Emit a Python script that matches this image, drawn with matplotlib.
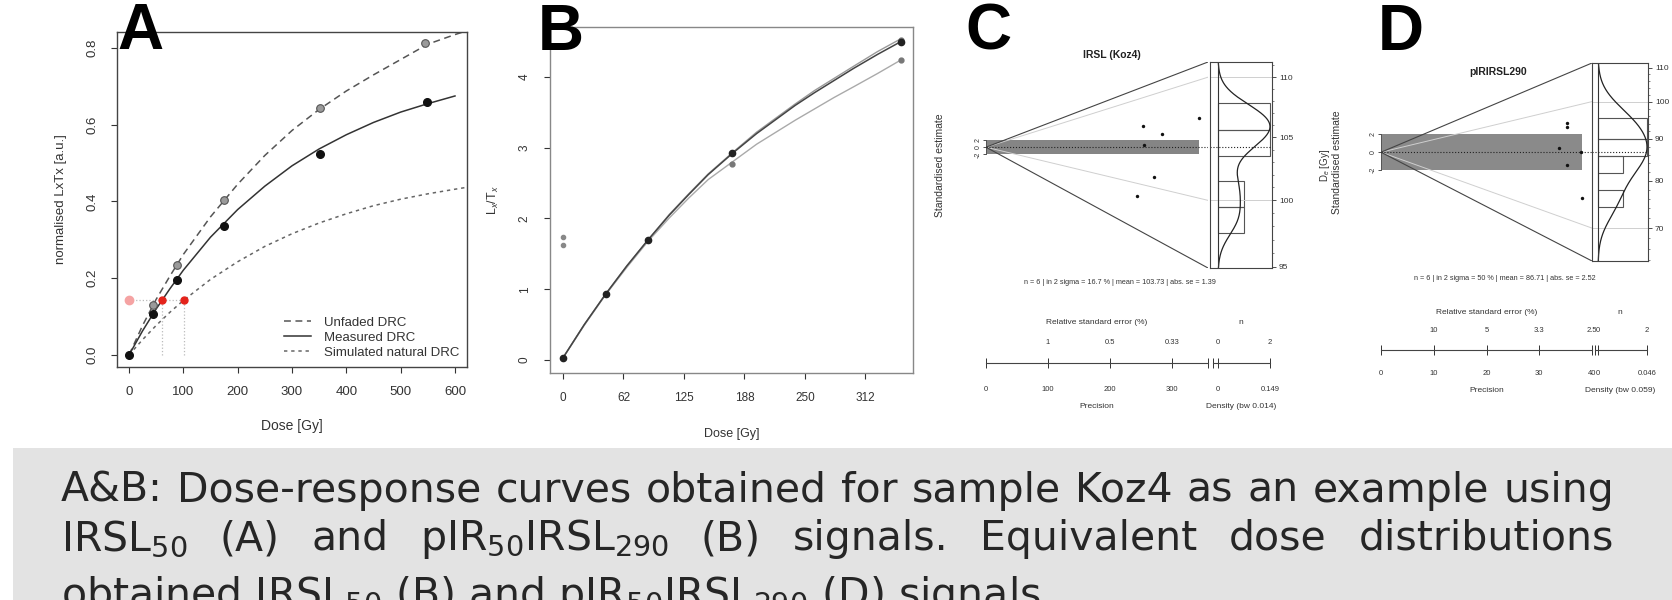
import numpy as np
import matplotlib
matplotlib.use('Agg')
import matplotlib.pyplot as plt
from matplotlib.patches import Rectangle

W, H = 1672, 600
plt.rcParams['font.family'] = ['Liberation Sans', 'DejaVu Sans']
plt.rcParams['mathtext.fontset'] = 'custom'
plt.rcParams['mathtext.rm'] = 'Liberation Sans'
plt.rcParams['mathtext.it'] = 'Liberation Sans:italic'
plt.rcParams['mathtext.bf'] = 'Liberation Sans:bold'

# ---------------- panel A: IRSL50 dose response ----------------
a_dose_meas = [0, 44, 88, 175, 352, 549]
a_lxtx_meas = [0.0, 0.108, 0.195, 0.336, 0.525, 0.658]
a_dose_unf = [44, 88, 175, 352, 545]
a_lxtx_unf = [0.130, 0.235, 0.405, 0.643, 0.812]
a_curve_dose = [0, 25, 50, 75, 100, 150, 200, 250, 300, 350, 400, 450, 500, 550, 600, 622]
a_curve_unf = [0, 0.077, 0.145, 0.205, 0.262, 0.360, 0.445, 0.520, 0.585, 0.640, 0.688,
               0.730, 0.770, 0.810, 0.835, 0.845]
a_curve_meas = [0, 0.063, 0.120, 0.172, 0.221, 0.307, 0.379, 0.440, 0.493, 0.537, 0.574,
                0.606, 0.633, 0.655, 0.675, np.nan]
a_curve_sim = [0, 0.040, 0.077, 0.111, 0.142, 0.197, 0.243, 0.283, 0.316, 0.344, 0.368,
               0.389, 0.406, 0.420, 0.432, 0.437]
a_ln_tn = 0.143
a_de = [61, 101]

# ---------------- panel B: pIR50IRSL290 dose response ----------------
b_dose = [0, 44, 88, 175, 349]
b_lxtx = [0.03, 0.93, 1.70, 2.92, 4.50]
b_dose_rep = [175, 349, 349]
b_lxtx_rep = [2.77, 4.24, 4.53]
b_nat = [1.74, 1.62]
b_curve_dose = [0, 22, 44, 66, 88, 110, 130, 150, 175, 200, 220, 240, 260, 280, 300, 325, 349]
b_curve_1 = [0.03, 0.50, 0.93, 1.33, 1.70, 2.05, 2.34, 2.62, 2.92, 3.20, 3.40, 3.60, 3.78,
             3.95, 4.12, 4.32, 4.50]
b_curve_2 = [0.03, 0.50, 0.93, 1.33, 1.70, 2.06, 2.35, 2.63, 2.93, 3.22, 3.42, 3.62, 3.81,
             3.98, 4.15, 4.36, 4.54]
b_curve_3 = [0.03, 0.49, 0.92, 1.31, 1.68, 2.01, 2.29, 2.55, 2.80, 3.05, 3.22, 3.39, 3.55,
             3.71, 3.86, 4.05, 4.24]
b_xticks = [0, 62.5, 125, 187.5, 250, 312.5]
b_xticklabels = ['0', '62', '125', '188', '250', '312']

# ---------------- panel C: IRSL (Koz4) abanico ----------------
c_prec = [253, 284, 344, 255, 271, 244]
c_de = [106.6, 105.5, 106.7, 104.4, 101.1, 98.6]
c_central = 104.2
c_edges = [97.5, 99.5, 101.5, 103.5, 105.6, 107.8]
c_bw = 0.014
c_de_lim = [94.9, 111.3]
c_de_ticks = [95, 100, 105, 110]
c_de_minor = list(range(95, 112))
c_ref = [100, 110]
c_prec_ticks = [0, 100, 200, 300]
c_stats = 'n = 6 | in 2 sigma = 16.7 % | mean = 103.73 | abs. se = 1.39'

# ---------------- panel D: pIRIRSL290 abanico ----------------
d_prec = [35.3, 35.3, 33.7, 35.3, 37.9, 38.1]
d_de = [95.2, 94.0, 88.0, 83.3, 86.8, 75.8]
d_central = 86.7
d_edges = [74.3, 78.0, 81.8, 85.8, 90.0, 95.5]
d_bw = 0.059
d_de_lim = [63.8, 111.5]
d_de_ticks = [70, 80, 90, 100, 110]
d_de_minor = list(range(64, 112, 2))
d_ref = [70, 100]
d_prec_ticks = [0, 10, 20, 30, 40]
d_stats = 'n = 6 | in 2 sigma = 50 % | mean = 86.71 | abs. se = 2.52'

caption_1 = 'A&B: Dose-response curves obtained for  sample Koz4 as an example using'
caption_2 = ('IRSL$_{\\mathrm{50}}$ (A) and pIR$_{\\mathrm{50}}$IRSL$_{\\mathrm{290}}$ (B) '
             'signals. Equivalent dose distributions')
caption_3 = ('obtained IRSL$_{\\mathrm{50}}$ (B) and pIR$_{\\mathrm{50}}$IRSL$_{\\mathrm{290}}$ '
             '(D) signals.')


def rect(x0, y0, x1, y1):
    return [x0 / W, 1 - y1 / H, (x1 - x0) / W, (y1 - y0) / H]


def fx(x):
    return x / W


def fy(y):
    return 1 - y / H


fig = plt.figure(figsize=(W / 100, H / 100), dpi=100)

# caption background
fig.add_artist(Rectangle((fx(13), 0), 1 - fx(13), (H - 448) / H, transform=fig.transFigure,
                         facecolor='#e3e3e3', edgecolor='none', zorder=-5))


def r_style(ax, spine_col):
    for s in ax.spines.values():
        s.set_color(spine_col)
        s.set_linewidth(1.0)
    ax.tick_params(colors='#333', direction='out')


# ---------------- A ----------------
axA = fig.add_axes(rect(117, 32, 467, 367))
axA.set_xlim(-22.1, 622.1)
axA.set_ylim(-0.0313, 0.8417)
r_style(axA, '#444')
axA.plot(a_curve_dose, a_curve_unf, color='#555', lw=1.1, ls=(0, (4.5, 3)), label='Unfaded DRC')
axA.plot(a_curve_dose, a_curve_meas, color='#333', lw=1.1, label='Measured DRC')
axA.plot(a_curve_dose, a_curve_sim, color='#666', lw=1.1, ls=(0, (2.2, 2.5)),
         label='Simulated natural DRC')
axA.plot([0, max(a_de)], [a_ln_tn, a_ln_tn], color='#bbb', lw=0.9, ls=':')
for d in a_de:
    axA.plot([d, d], [0, a_ln_tn], color='#bbb', lw=0.9, ls=':')
axA.plot(a_dose_unf, a_lxtx_unf, 'o', ms=5.5, mfc='#9a9a9a', mec='#555', mew=0.8)
axA.plot(a_dose_meas, a_lxtx_meas, 'o', ms=5.5, color='#111')
axA.plot([0], [a_ln_tn], 'o', ms=6, color='#f5a3a3')
axA.plot(a_de, [a_ln_tn] * len(a_de), 'o', ms=5, color='#e4231b')
axA.set_xticks(range(0, 601, 100))
axA.set_yticks([0.0, 0.2, 0.4, 0.6, 0.8])
axA.set_yticklabels(['0.0', '0.2', '0.4', '0.6', '0.8'], rotation=90, va='center')
axA.tick_params(axis='x', labelsize=9.5, length=4, pad=10)
axA.tick_params(axis='y', labelsize=9.5, length=4, pad=9)
axA.set_xlabel('Dose [Gy]', fontsize=10, color='#333')
axA.xaxis.set_label_coords(0.5, -0.155)
axA.set_ylabel('normalised LxTx [a.u.]', fontsize=9.5, color='#333')
axA.yaxis.set_label_coords(-0.143, 0.5)
axA.legend(loc='lower right', frameon=False, fontsize=9.5, handlelength=2.0,
           handletextpad=1.0, labelspacing=0.22, borderaxespad=0.2, labelcolor='#333')

# ---------------- B ----------------
axB = fig.add_axes(rect(550, 27, 913, 373))
axB.set_xlim(-13.4, 361.6)
axB.set_ylim(-0.184, 4.707)
r_style(axB, '#888')
axB.plot(b_curve_dose, b_curve_3, color='#aaa', lw=1.0)
axB.plot(b_curve_dose, b_curve_2, color='#999', lw=1.0)
axB.plot(b_curve_dose, b_curve_1, color='#444', lw=1.1)
axB.plot(b_dose_rep, b_lxtx_rep, 'o', ms=3.5, color='#777')
axB.plot([0] * len(b_nat), b_nat, 'o', ms=3, color='#888')
axB.plot(b_dose, b_lxtx, 'o', ms=4.5, color='#222')
axB.set_xticks(b_xticks)
axB.set_xticklabels(b_xticklabels)
axB.set_yticks([0, 1, 2, 3, 4])
axB.set_yticklabels(['0', '1', '2', '3', '4'], rotation=90, va='center')
axB.tick_params(axis='x', labelsize=8.5, length=4, pad=10)
axB.tick_params(axis='y', labelsize=8.5, length=4, pad=10)
axB.set_xlabel('Dose [Gy]', fontsize=9, color='#333')
axB.xaxis.set_label_coords(0.5, -0.16)
axB.set_ylabel('L$_x$/T$_x$', fontsize=9, color='#333')
axB.yaxis.set_label_coords(-0.135, 0.5)


# ---------------- abanico plots (C, D) ----------------
def abanico(prec, de, central, edges, bw, de_lim, de_ticks, de_minor, ref_de, prec_ticks,
            title, stats, lay):
    prec = np.asarray(prec, float)
    lde = np.log(de)
    z0 = np.log(central)
    xr0, xr1 = lay['r']
    xd0, xd1 = lay['d']
    top, bot = lay['top'], lay['bottom']
    x_end = lay['x_end']
    ylo = (np.log(de_lim[0]) - z0) * x_end
    yhi = (np.log(de_lim[1]) - z0) * x_end

    # radial part
    ax = fig.add_axes(rect(xr0, top, xr1, bot))
    ax.set_xlim(0, x_end)
    ax.set_ylim(ylo, yhi)
    ax.patch.set_alpha(0)
    for s in ['top', 'right', 'bottom']:
        ax.spines[s].set_visible(False)
    ax.spines['left'].set_bounds(-2, 2)
    ax.spines['left'].set_color('#555')
    ax.spines['left'].set_linewidth(0.7)
    ax.set_xticks([])
    ax.set_yticks([-2, 0, 2])
    ax.set_yticklabels(['-2', '0', '2'], rotation=90, va='center')
    ax.tick_params(axis='y', labelsize=5, length=2, pad=1, colors='#333', width=0.6)
    ax.add_patch(Rectangle((0, -2), prec.max(), 4, facecolor=lay['band'], edgecolor='none',
                           zorder=1))
    for d in ref_de:
        ax.plot([0, x_end], [0, (np.log(d) - z0) * x_end], color='#cfcfcf', lw=0.7, zorder=2)
    ax.plot([x_end, 0, x_end], [yhi, 0, ylo], color='#444', lw=0.8, zorder=3)
    ax.axhline(0, ls=':', color='#222', lw=0.8, zorder=3)
    ax.scatter(prec, (lde - z0) * prec, s=6, color='#111', zorder=4, linewidths=0)
    ax.set_ylabel('Standardised estimate', fontsize=7.5, color='#333')
    ax.yaxis.set_label_coords((lay['ylab_x'] - xr0) / (xr1 - xr0), 0.5)

    # density part
    axd = fig.add_axes(rect(xd0, top, xd1, bot))
    grid = np.linspace(np.log(de_lim[0]), np.log(de_lim[1]), 400)
    kde = np.exp(-0.5 * ((grid[:, None] - lde[None, :]) / bw) ** 2).sum(1)
    kde = kde / (len(de) * bw * np.sqrt(2 * np.pi)) / np.exp(grid)
    dmax = kde.max()
    wd = xd1 - xd0
    zp, rp = lay['zero_px'], lay['max_px']
    scale = dmax / (wd - zp - rp)
    axd.set_xlim(-zp * scale, (wd - zp) * scale)
    axd.set_ylim(np.log(de_lim[0]), np.log(de_lim[1]))
    counts, _ = np.histogram(de, bins=edges)
    nmax = counts.max()
    le = np.log(edges)
    for d in ref_de:
        axd.axhline(np.log(d), color='#cfcfcf', lw=0.7)
    axd.barh(le[:-1], counts / nmax * dmax, height=np.diff(le), align='edge', fill=False,
             edgecolor='#555', lw=0.8)
    axd.plot(kde, grid, color='#222', lw=0.9)
    axd.axvline(0, color='#333', lw=0.8)
    axd.axhline(z0, ls=':', color='#222', lw=0.8)
    for s in axd.spines.values():
        s.set_color('#444')
        s.set_linewidth(0.8)
    axd.set_xticks([])
    axd.yaxis.tick_right()
    axd.set_yticks(np.log(de_ticks))
    axd.set_yticklabels([str(t) for t in de_ticks])
    axd.set_yticks(np.log(de_minor), minor=True)
    axd.tick_params(axis='y', which='major', labelsize=6, length=3, pad=2, colors='#333',
                    width=0.6)
    axd.tick_params(axis='y', which='minor', length=1.5, colors='#555', width=0.5)
    axd.yaxis.set_label_position('right')
    axd.set_ylabel('D$_e$ [Gy]', fontsize=7, color='#333', rotation=90)
    axd.yaxis.set_label_coords((lay['delab_x'] - xd0) / wd, 0.5)

    # title and statistics
    fig.text(fx(lay['title_xy'][0]), fy(lay['title_xy'][1]), title, fontsize=7.5,
             fontweight='bold', ha='center', va='center', color='#222')
    fig.text(fx(lay['stats_xy'][0]), fy(lay['stats_xy'][1]), stats, fontsize=5.2,
             ha='center', va='center', color='#333')

    # precision axis below
    ly = lay['line_y']
    axp = fig.add_axes(rect(xr0, ly - 10, xr1, ly))
    axp.set_xlim(0, x_end)
    axp.set_ylim(0, 1)
    axp.patch.set_alpha(0)
    for s in ['top', 'right', 'left']:
        axp.spines[s].set_visible(False)
    axp.spines['bottom'].set_bounds(0, x_end)
    axp.spines['bottom'].set_color('#444')
    axp.spines['bottom'].set_linewidth(0.8)
    axp.set_yticks([])
    axp.set_xticks(prec_ticks)
    axp.set_xticklabels([str(p) for p in prec_ticks])
    axp.set_xticks([x_end], minor=True)
    axp.tick_params(axis='x', which='both', direction='inout', length=7, width=0.7,
                    labelsize=5.5, pad=lay['tick_pad'], colors='#333')
    for p in prec_ticks[1:]:
        axp.annotate('%.2g' % (100.0 / p), (p, 0), xycoords=('data', 'axes fraction'),
                     xytext=(0, lay['rse_dy']), textcoords='offset pixels', ha='center',
                     va='center', fontsize=5.5, color='#333')
    axp.annotate('Relative standard error (%)', (0.5, 0), xycoords='axes fraction',
                 xytext=(0, lay['head_dy']), textcoords='offset pixels', ha='center',
                 va='center', fontsize=6, color='#333')
    axp.annotate('Precision', (0.5, 0), xycoords='axes fraction',
                 xytext=(0, -lay['lab_dy']), textcoords='offset pixels', ha='center',
                 va='center', fontsize=6, color='#333')

    # density axis below
    axb = fig.add_axes(rect(xd0, ly - 10, xd1, ly))
    axb.set_xlim(axd.get_xlim())
    axb.set_ylim(0, 1)
    axb.patch.set_alpha(0)
    for s in ['top', 'right', 'left']:
        axb.spines[s].set_visible(False)
    start = -zp * scale + 3 * scale
    axb.spines['bottom'].set_bounds(start, dmax)
    axb.spines['bottom'].set_color('#444')
    axb.spines['bottom'].set_linewidth(0.8)
    axb.set_yticks([])
    axb.set_xticks([0, dmax])
    axb.set_xticklabels(['0', '%.3f' % dmax])
    axb.set_xticks([start], minor=True)
    axb.tick_params(axis='x', which='both', direction='inout', length=7, width=0.7,
                    labelsize=5.5, pad=lay['tick_pad'], colors='#333')
    for v, lab in [(0, '0'), (dmax, str(nmax))]:
        axb.annotate(lab, (v, 0), xycoords=('data', 'axes fraction'),
                     xytext=(0, lay['rse_dy']), textcoords='offset pixels', ha='center',
                     va='center', fontsize=5.5, color='#333')
    axb.annotate('n', (0.5, 0), xycoords='axes fraction', xytext=(0, lay['head_dy']),
                 textcoords='offset pixels', ha='center', va='center', fontsize=6,
                 color='#333')
    axb.annotate('Density (bw %s)' % bw, (0.5, 0), xycoords='axes fraction',
                 xytext=(0, -lay['lab_dy']), textcoords='offset pixels', ha='center',
                 va='center', fontsize=6, color='#333')


lay_c = dict(r=(986, 1208), d=(1210, 1272), top=62, bottom=268, x_end=358, band='#858585',
             zero_px=8, max_px=2, ylab_x=945, delab_x=1318, title_xy=(1112, 55),
             stats_xy=(1120, 283), line_y=363, tick_pad=13, rse_dy=21, head_dy=40, lab_dy=44)
lay_d = dict(r=(1381, 1592), d=(1592, 1648), top=63, bottom=261, x_end=40, band='#8a8a8a',
             zero_px=6, max_px=1, ylab_x=1342, delab_x=1700, title_xy=(1498, 72),
             stats_xy=(1505, 278), line_y=350, tick_pad=11, rse_dy=20, head_dy=37, lab_dy=40)

abanico(c_prec, c_de, c_central, c_edges, c_bw, c_de_lim, c_de_ticks, c_de_minor, c_ref,
        c_prec_ticks, 'IRSL (Koz4)', c_stats, lay_c)
abanico(d_prec, d_de, d_central, d_edges, d_bw, d_de_lim, d_de_ticks, d_de_minor, d_ref,
        d_prec_ticks, 'pIRIRSL290', d_stats, lay_d)

# panel letters
for letter, x, y in [('A', 117, 49), ('B', 538, 50), ('C', 965, 50), ('D', 1378, 50)]:
    fig.text(fx(x), fy(y), letter, fontsize=46, fontweight='bold', ha='left', va='baseline',
             color='#000', zorder=10)

# caption (justified lines), wide sans to match the stretched original
cap_kw = dict(fontsize=29.5, color='#262626', va='baseline', ha='left',
              family=['DejaVu Sans'], math_fontfamily='dejavusans')
renderer = fig.canvas.get_renderer()


def justify(line, x0, x1, y):
    words = line.split()
    texts = [fig.text(0, fy(y), w, **cap_kw) for w in words]
    widths = [t.get_window_extent(renderer).width for t in texts]
    gap = ((x1 - x0) - sum(widths)) / (len(words) - 1)
    x = x0
    for t, w in zip(texts, widths):
        t.set_x(fx(x))
        x += w + gap


justify(caption_1, 61, 1614, 502)
justify(caption_2, 61, 1614, 550)
fig.text(fx(61), fy(607), caption_3, **cap_kw)

fig.savefig('out.png', dpi=100)
